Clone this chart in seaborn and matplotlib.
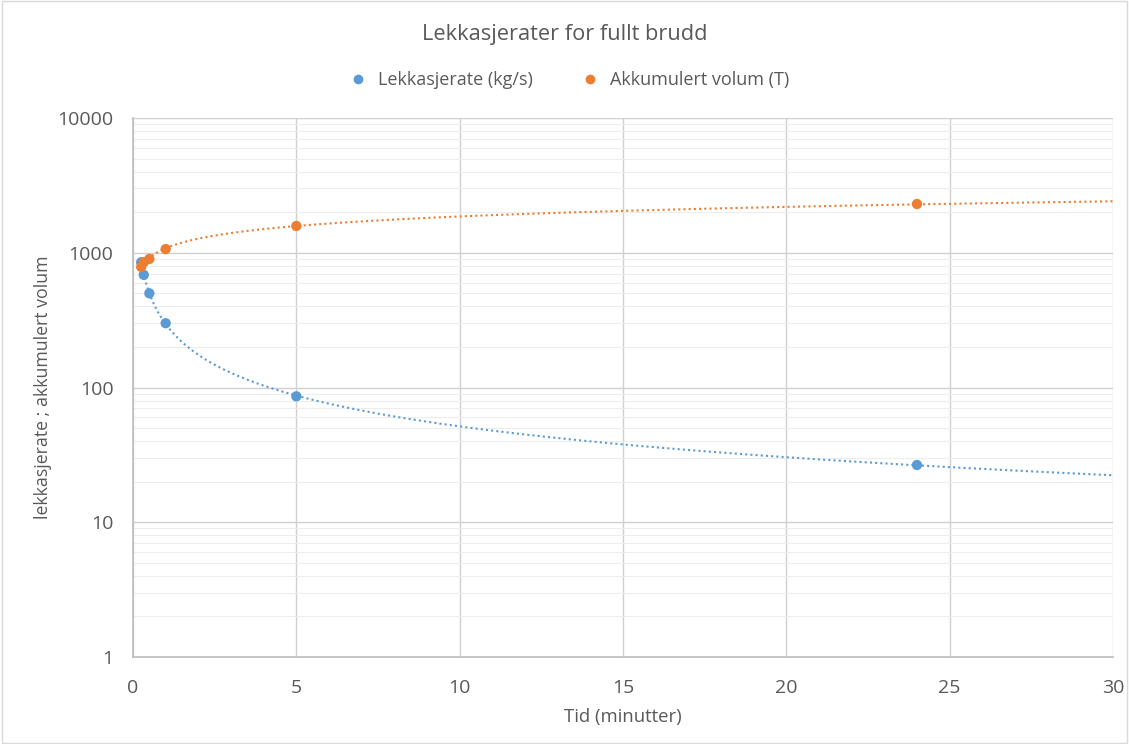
import numpy as np
import pandas as pd
import matplotlib
matplotlib.use("Agg")
import matplotlib.pyplot as plt
import seaborn as sns
from matplotlib.ticker import LogLocator, FixedLocator, NullFormatter
from matplotlib.lines import Line2D

# Data
tid_lekk = [0.25, 0.33, 0.5, 1.0, 5.0, 24.0]
lekkasjerate = [850, 685, 500, 300, 86, 26.6]
tid_akk = [0.25, 0.33, 0.5, 1.0, 5.0, 24.0]
akkumulert = [785, 850, 900, 1065, 1580, 2300]

series_names = ["Lekkasjerate (kg/s)", "Akkumulert volum (T)"]
colors = ["#5B9BD5", "#ED7D31"]
title = "Lekkasjerater for fullt brudd"
xlabel = "Tid (minutter)"
ylabel = "lekkasjerate ; akkumulert volum"
xticks = [0, 5, 10, 15, 20, 25, 30]
yticks = [1, 10, 100, 1000, 10000]
ytick_labels = ["1", "10", "100", "1000", "10000"]

sns.set_theme(style="white")
plt.rcParams["font.family"] = ["Open Sans", "DejaVu Sans"]
text_color = "#595959"

fig = plt.figure(figsize=(11.29, 7.44), dpi=100)
ax = fig.add_axes([0.1178, 0.1169, 0.868, 0.7245])

df = pd.concat([
    pd.DataFrame({"x": tid_lekk, "y": lekkasjerate, "serie": series_names[0]}),
    pd.DataFrame({"x": tid_akk, "y": akkumulert, "serie": series_names[1]}),
])

# Power trendlines (Excel style): ln y = ln a + b ln x, forecast forward to 30
for (xs, ys), c in zip([(tid_lekk, lekkasjerate), (tid_akk, akkumulert)], colors):
    b, lna = np.polyfit(np.log(xs), np.log(ys), 1)
    xt = np.linspace(min(xs), 30, 400)
    yt = np.exp(lna) * xt ** b
    sns.lineplot(x=xt, y=yt, ax=ax, color=c, linestyle=(0, (1, 1.5)), linewidth=1.5, zorder=2)

sns.scatterplot(data=df, x="x", y="y", hue="serie", palette=colors, ax=ax,
                s=55, edgecolor="none", zorder=3, legend=False)

ax.set_yscale("log")
ax.set_xlim(0, 30)
ax.set_ylim(1, 10000)
ax.xaxis.set_major_locator(FixedLocator(xticks))
ax.yaxis.set_major_locator(FixedLocator(yticks))
ax.set_yticklabels(ytick_labels)
ax.yaxis.set_minor_locator(LogLocator(base=10, subs=np.arange(2, 10)))
ax.yaxis.set_minor_formatter(NullFormatter())

ax.grid(True, which="major", color="#d0d0d0", linewidth=1.0)
ax.grid(True, which="minor", axis="y", color="#ededed", linewidth=0.8)
ax.set_axisbelow(True)
for side in ["top", "right"]:
    ax.spines[side].set_visible(False)
ax.spines["left"].set_color("#bfbfbf")
ax.spines["bottom"].set_color("#bfbfbf")
ax.tick_params(axis="both", which="both", length=0, labelsize=14, colors=text_color)
ax.tick_params(axis="x", pad=16)
ax.tick_params(axis="y", pad=14)

ax.set_xlabel(xlabel, fontsize=13.3, color=text_color, labelpad=8)
ax.set_ylabel(ylabel, fontsize=12.8, color=text_color, labelpad=4)
fig.text(0.5, 0.953, title, ha="center", va="center", fontsize=15.7, color=text_color)

handles = [Line2D([], [], marker="o", linestyle="", color=c, markersize=6) for c in colors]
fig.legend(handles, series_names, loc="center", bbox_to_anchor=(0.5, 0.892), ncol=2,
           frameon=False, fontsize=13, labelcolor=text_color, handletextpad=0.1,
           columnspacing=2.2)

fig.patches.append(plt.Rectangle((0.002, 0.002), 0.996, 0.996, transform=fig.transFigure,
                                 fill=False, edgecolor="#d9d9d9", linewidth=1))

fig.savefig("out.png", dpi=100, facecolor="white")
